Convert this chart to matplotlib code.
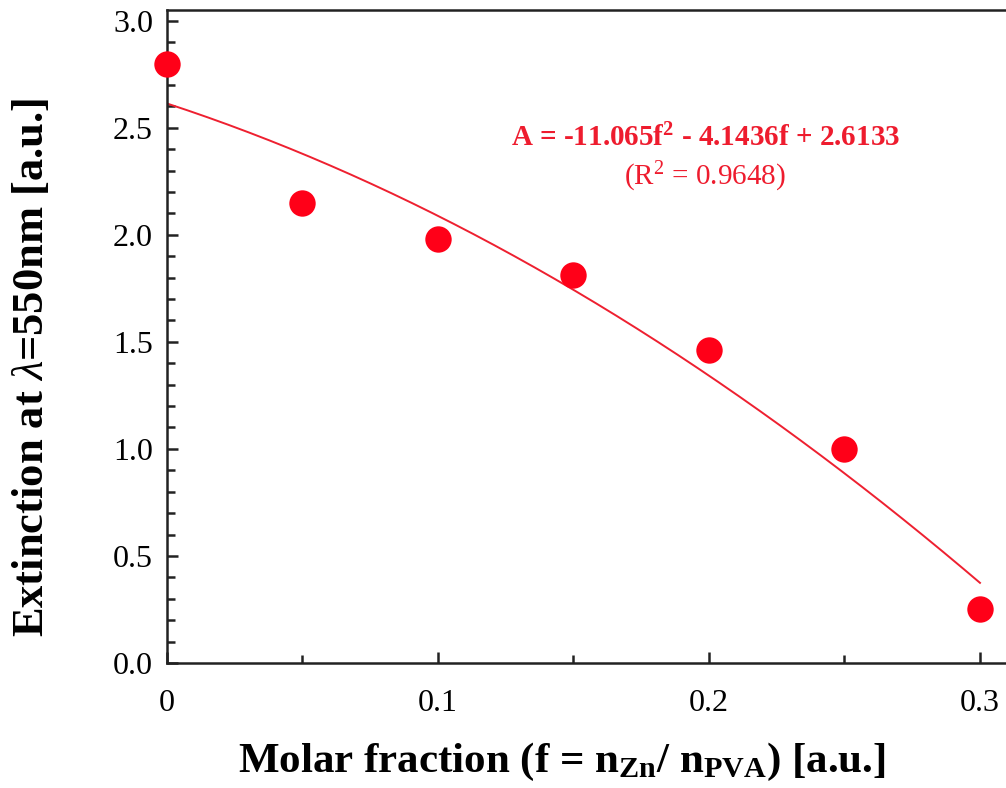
import numpy as np
import matplotlib
matplotlib.use("Agg")
import matplotlib.pyplot as plt
from matplotlib.ticker import MultipleLocator, FixedLocator

# Data
fraction = [0.0, 0.05, 0.10, 0.15, 0.20, 0.25, 0.30]
extinction = [2.80, 2.15, 1.98, 1.81, 1.46, 1.00, 0.25]
fit_coeffs = [-11.065, -4.1436, 2.6133]
x_ticks = [0.0, 0.1, 0.2, 0.3]
x_ticklabels = ["0", "0.1", "0.2", "0.3"]
y_ticks = [0.0, 0.5, 1.0, 1.5, 2.0, 2.5, 3.0]
y_ticklabels = ["0.0", "0.5", "1.0", "1.5", "2.0", "2.5", "3.0"]

plt.rcParams['font.family'] = ['Liberation Serif', 'DejaVu Serif']
plt.rcParams['mathtext.fontset'] = 'custom'
plt.rcParams['mathtext.rm'] = 'Liberation Serif'
plt.rcParams['mathtext.it'] = 'Liberation Serif:italic'
plt.rcParams['mathtext.bf'] = 'Liberation Serif:bold'

fig = plt.figure(figsize=(10.06, 7.88), dpi=100)
ax = fig.add_axes([167/1006, 1-663/788, (1006-167)/1006, (663-10)/788])

xf = np.linspace(0, 0.3, 200)
ax.plot(xf, np.polyval(fit_coeffs, xf), color='#ee2030', lw=1.4, zorder=2)
ax.plot(fraction, extinction, 'o', color='#ff0018', ms=19, mec='none', clip_on=False, zorder=3)

ax.set_xlim(0, 0.3096)
ax.set_ylim(0, 3.05)
ax.spines['right'].set_visible(False)
for s in ['left', 'bottom', 'top']:
    ax.spines[s].set_linewidth(1.8)
    ax.spines[s].set_color('#222222')

ax.xaxis.set_major_locator(FixedLocator(x_ticks))
ax.set_xticklabels(x_ticklabels)
ax.xaxis.set_minor_locator(MultipleLocator(0.05))
ax.yaxis.set_major_locator(FixedLocator(y_ticks))
ax.set_yticklabels(y_ticklabels)
ax.yaxis.set_minor_locator(MultipleLocator(0.1))
ax.tick_params(which='both', direction='in', top=False, right=False, color='#222222', width=1.8)
ax.tick_params(which='major', length=8, labelsize=23)
ax.tick_params(which='minor', length=6)
ax.tick_params(axis='x', which='major', pad=19)
ax.tick_params(axis='y', which='major', pad=10)

ax.set_xlabel(r'Molar fraction (f = n$_{\mathbf{Zn}}$/ n$_{\mathbf{PVA}}$) [a.u.]',
              fontsize=31, fontweight='bold')
ax.xaxis.set_label_coords(0.47, -0.12)
ax.set_ylabel(r'Extinction at $\lambda$=550nm [a.u.]', fontsize=32, fontweight='bold')
ax.yaxis.set_label_coords(-0.137, 0.452)

ax.text(0.1986, 2.45, r'A = -11.065f$^{\mathbf{2}}$ - 4.1436f + 2.6133', color='#ee1c2e',
        fontsize=21, fontweight='bold', ha='center', va='center')
ax.text(0.1986, 2.27, r'(R$^{2}$ = 0.9648)', color='#ee1c2e', fontsize=21, ha='center', va='center')

fig.savefig('out.png', dpi=100)
